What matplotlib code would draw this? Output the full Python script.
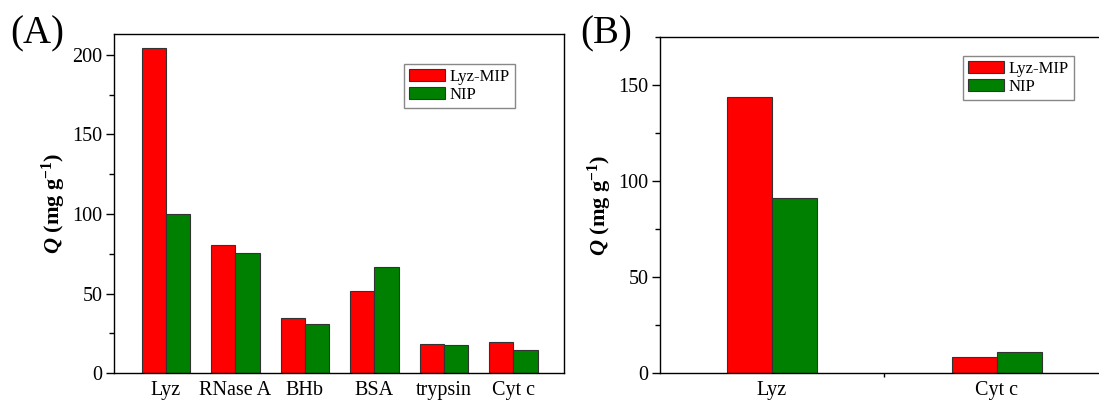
import numpy as np
import matplotlib
matplotlib.use("Agg")
import matplotlib.pyplot as plt
from matplotlib.ticker import MultipleLocator, FixedLocator

plt.rcParams.update({
    "font.family": "Liberation Serif",
    "font.size": 14,
    "mathtext.fontset": "custom",
    "mathtext.rm": "Liberation Serif:bold",
    "mathtext.it": "Liberation Serif:bold:italic",
    "mathtext.bf": "Liberation Serif:bold",
    "axes.linewidth": 1.0,
})

# panel A
proteins_a = ["Lyz", "RNase A", "BHb", "BSA", "trypsin", "Cyt c"]
mip_a = [204, 80.5, 34.4, 51.6, 18.7, 19.7]
nip_a = [100, 75.7, 30.8, 66.9, 18.0, 14.9]

# panel B
proteins_b = ["Lyz", "Cyt c"]
mip_b = [143.6, 8.1]
nip_b = [91.3, 11.1]

series = ["Lyz-MIP", "NIP"]
red = "#ff0000"
green = "#008000"

fig = plt.figure(figsize=(10.99, 4.01), dpi=100)
ax_a = fig.add_axes([0.1033, 0.0691, 0.4099, 0.8461])
ax_b = fig.add_axes([0.6001, 0.0698, 0.4090, 0.8379])

ylabel = r"$Q$ (mg g$^{-1}$)"


def style(ax):
    ax.tick_params(axis="y", which="major", direction="out", length=6, width=1, labelsize=14.5, pad=2)
    ax.tick_params(axis="y", which="minor", direction="out", length=3.5, width=1)
    ax.tick_params(axis="x", which="both", length=0, labelsize=14.5, pad=5.5)
    ax.set_ylabel(ylabel, fontsize=16, fontweight="bold", labelpad=3)


def legend(ax, anchor):
    ax.legend(loc="upper left", bbox_to_anchor=anchor, fancybox=False,
              edgecolor="#888888", framealpha=1, fontsize=12, handlelength=2.15,
              handleheight=0.72, handletextpad=0.3, borderpad=0.3, labelspacing=0.12,
              borderaxespad=0)


# A
x = np.arange(len(proteins_a))
w = 0.35
ax_a.bar(x - w / 2, mip_a, w, color=red, edgecolor="#333333", linewidth=0.8, label=series[0])
ax_a.bar(x + w / 2, nip_a, w, color=green, edgecolor="#333333", linewidth=0.8, label=series[1])
ax_a.set_xlim(-0.755, 5.73)
ax_a.set_ylim(0, 213)
ax_a.set_xticks(x)
ax_a.set_xticklabels(proteins_a)
ax_a.yaxis.set_major_locator(MultipleLocator(50))
ax_a.yaxis.set_minor_locator(MultipleLocator(25))
style(ax_a)
legend(ax_a, (0.645, 0.912))
fig.text(0.009, 0.962, "(A)", fontsize=28, va="top", ha="left")

# B
xb = np.arange(len(proteins_b))
wb = 0.2
ax_b.bar(xb - wb / 2, mip_b, wb, color=red, edgecolor="#333333", linewidth=0.8, label=series[0])
ax_b.bar(xb + wb / 2, nip_b, wb, color=green, edgecolor="#333333", linewidth=0.8, label=series[1])
ax_b.set_xlim(-0.5, 1.5)
ax_b.set_ylim(0, 175)
ax_b.set_xticks(xb)
ax_b.set_xticklabels(proteins_b)
ax_b.xaxis.set_minor_locator(FixedLocator([0.5]))
ax_b.yaxis.set_major_locator(MultipleLocator(50))
ax_b.yaxis.set_minor_locator(MultipleLocator(25))
style(ax_b)
ax_b.tick_params(axis="x", which="minor", length=3, width=1, direction="out")
legend(ax_b, (0.675, 0.943))
fig.text(0.528, 0.962, "(B)", fontsize=28, va="top", ha="left")

fig.savefig("out.png", dpi=100)
